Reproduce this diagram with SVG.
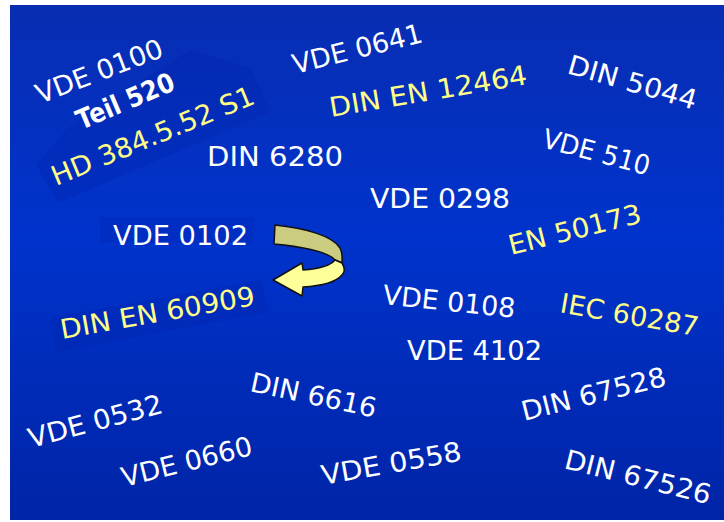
<svg xmlns="http://www.w3.org/2000/svg" width="724" height="522" viewBox="0 0 724 522">
<defs>
<linearGradient id="bg" x1="0" y1="0" x2="0" y2="1">
<stop offset="0" stop-color="#082db2"/>
<stop offset="0.45" stop-color="#0033cc"/>
<stop offset="1" stop-color="#0024a6"/>
</linearGradient>
<style>
text{font-family:"DejaVu Sans","Liberation Sans",sans-serif;font-size:27px;fill:#ffffff}
.y{fill:#ffff88}
.b{font-weight:bold}
.panel{fill:#0020a8;opacity:0.25}
.arrow{stroke:#111111;stroke-width:1.5;stroke-linejoin:round}
</style>
</defs>
<rect x="0" y="0" width="724" height="522" fill="#ffffff"/>
<rect x="10" y="5" width="714" height="515" fill="url(#bg)"/>
<g id="panels">
<polygon class="panel" points="36,165 58,203 270,112 250,68 190,50 68,128"/>
<rect class="panel" x="100" y="217" width="154" height="26" opacity="0.12"/>
<polygon class="panel" points="50,318 56,352 268,312 262,280" opacity="0.12"/>
</g>
<g id="arrow">
<path class="arrow" fill="#cccc80" d="M275,225 C305,228 333,236 340,248 C343,254 342,258 342,263 L335,260 C328,252 305,247 274,244 Z"/>
<path class="arrow" fill="#ffff99" d="M335,260 L342,263 C345,268 345,272 342,275 C335,283 320,286 303,287 L302,296 L273,280 L302,263 L303,270 C318,269 330,266 335,260 Z"/>
</g>
<g id="labels">
<text transform="translate(40,104) rotate(-21)" textLength="134" lengthAdjust="spacingAndGlyphs">VDE 0100</text>
<text class="b" transform="translate(81,130) rotate(-23)" font-size="20" textLength="104" lengthAdjust="spacingAndGlyphs">Teil 520</text>
<text class="y" transform="translate(56,186) rotate(-22.5)" font-size="24" textLength="217" lengthAdjust="spacingAndGlyphs">HD 384.5.52 S1</text>
<text transform="translate(295,74) rotate(-14)" textLength="133" lengthAdjust="spacingAndGlyphs">VDE 0641</text>
<text class="y" transform="translate(331,117) rotate(-9.5)" font-size="25" textLength="200" lengthAdjust="spacingAndGlyphs">DIN EN 12464</text>
<text transform="translate(566,73) rotate(16)" textLength="133" lengthAdjust="spacingAndGlyphs">DIN 5044</text>
<text transform="translate(541,147) rotate(15)" textLength="110" lengthAdjust="spacingAndGlyphs">VDE 510</text>
<text x="207" y="166" font-size="28" textLength="136" lengthAdjust="spacingAndGlyphs">DIN 6280</text>
<text x="370" y="208" font-size="29" textLength="140" lengthAdjust="spacingAndGlyphs">VDE 0298</text>
<text x="113" y="245" font-size="24" textLength="135" lengthAdjust="spacingAndGlyphs">VDE 0102</text>
<text class="y" transform="translate(511,255) rotate(-14)" font-size="25" textLength="136" lengthAdjust="spacingAndGlyphs">EN 50173</text>
<text class="y" transform="translate(62,339) rotate(-10)" font-size="25" textLength="197" lengthAdjust="spacingAndGlyphs">DIN EN 60909</text>
<text transform="translate(382,304) rotate(6)" textLength="133" lengthAdjust="spacingAndGlyphs">VDE 0108</text>
<text class="y" transform="translate(559,312) rotate(10)" font-size="25" textLength="140" lengthAdjust="spacingAndGlyphs">IEC 60287</text>
<text x="407" y="360" font-size="29" textLength="135" lengthAdjust="spacingAndGlyphs">VDE 4102</text>
<text transform="translate(524,421) rotate(-14)" textLength="148" lengthAdjust="spacingAndGlyphs">DIN 67528</text>
<text transform="translate(249,391) rotate(12)" textLength="128" lengthAdjust="spacingAndGlyphs">DIN 6616</text>
<text transform="translate(31,448) rotate(-15)" textLength="138" lengthAdjust="spacingAndGlyphs">VDE 0532</text>
<text transform="translate(124,487) rotate(-14)" textLength="134" lengthAdjust="spacingAndGlyphs">VDE 0660</text>
<text transform="translate(323,485) rotate(-10)" textLength="142" lengthAdjust="spacingAndGlyphs">VDE 0558</text>
<text transform="translate(563,468) rotate(14)" textLength="150" lengthAdjust="spacingAndGlyphs">DIN 67526</text>
</g>
</svg>
